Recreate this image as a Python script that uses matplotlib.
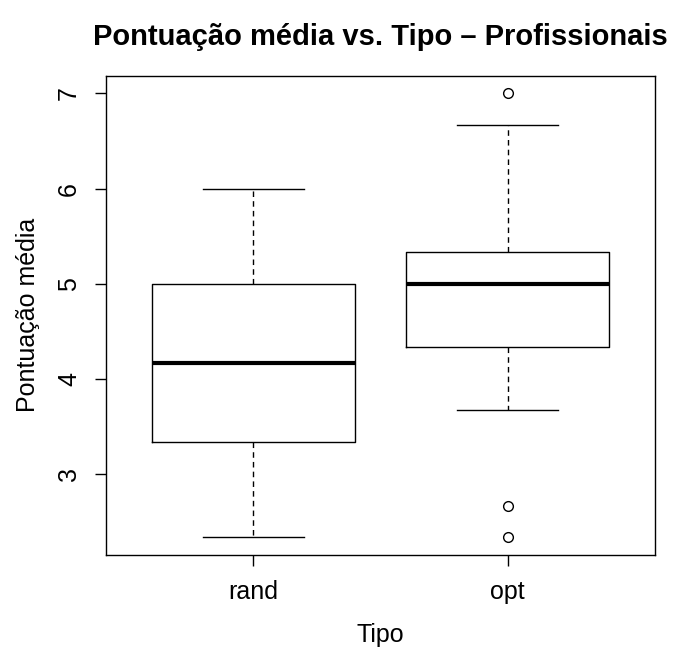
import matplotlib
matplotlib.use('Agg')
import matplotlib.pyplot as plt

plt.rcParams['font.family'] = ['Liberation Sans', 'DejaVu Sans']

tipos = ['rand', 'opt']
whisker_low = [2.333, 3.667]
q1 = [3.333, 4.333]
medians = [4.167, 5.0]
q3 = [5.0, 5.333]
whisker_high = [6.0, 6.667]
outliers = [[], [7.0, 2.667, 2.333]]

stats = []
for i, t in enumerate(tipos):
    stats.append({'label': t, 'whislo': whisker_low[i], 'q1': q1[i], 'med': medians[i],
                  'q3': q3[i], 'whishi': whisker_high[i], 'fliers': outliers[i]})

fig = plt.figure(figsize=(6.82, 6.48), dpi=100)
ax = fig.add_axes([106 / 682, 1 - 555 / 648, 549 / 682, (555 - 75.7) / 648])

ax.bxp(stats, positions=[1, 2], widths=0.8, showfliers=True,
       boxprops=dict(color='black', linewidth=1.0),
       medianprops=dict(color='black', linewidth=3.0),
       whiskerprops=dict(color='black', linewidth=1.0, linestyle=(0, (4, 3))),
       capprops=dict(color='black', linewidth=1.0),
       capwidths=0.4,
       flierprops=dict(marker='o', markerfacecolor='none', markeredgecolor='black',
                       markersize=7, markeredgewidth=1.0))

ax.set_xlim(0.42, 2.58)
ax.set_ylim(2.147, 7.187)
ax.set_yticks([3, 4, 5, 6, 7])
ax.set_xticks([1, 2])
ax.set_xticklabels(tipos)
ax.tick_params(axis='both', length=8, width=1.0, labelsize=18, pad=10)
for lbl in ax.get_yticklabels():
    lbl.set_rotation(90)
    lbl.set_va('center')
for s in ax.spines.values():
    s.set_linewidth(1.0)

ax.set_xlabel('Tipo', fontsize=18, labelpad=14)
ax.set_ylabel('Pontuação média', fontsize=18, labelpad=12)
ax.set_title('Pontuação média vs. Tipo – Profissionais', fontsize=21,
             fontweight='bold', pad=22)

fig.savefig('out.png', dpi=100)
